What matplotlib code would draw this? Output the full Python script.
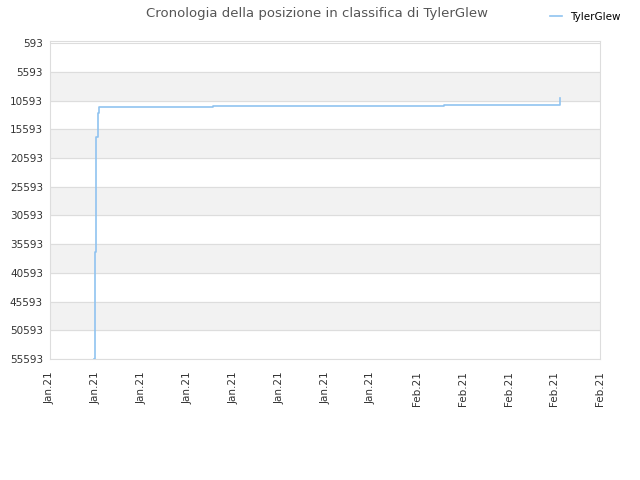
import numpy as np
import matplotlib
matplotlib.use('Agg')
import matplotlib.pyplot as plt
from datetime import datetime

# dati della classifica
dates = ['2021-01-04 20:00', '2021-01-04 22:00', '2021-01-05 01:00', '2021-01-05 04:00',
         '2021-01-05 07:00', '2021-01-15 06:00', '2021-02-04 09:00', '2021-02-14 08:00',
         '2021-02-14 12:00']
ranks = [55593, 36970, 16934, 12753, 11698, 11520, 11350, 11350, 10120]
player = 'TylerGlew'

yticks = [593, 5593, 10593, 15593, 20593, 25593, 30593, 35593, 40593, 45593, 50593, 55593]
xticks = ['2021-01-01', '2021-01-05', '2021-01-09', '2021-01-13', '2021-01-17', '2021-01-21',
          '2021-01-25', '2021-01-29', '2021-02-02', '2021-02-06', '2021-02-10', '2021-02-14',
          '2021-02-18']

x = [datetime.strptime(d, '%Y-%m-%d %H:%M') for d in dates]
xt = [datetime.strptime(d, '%Y-%m-%d') for d in xticks]

fig = plt.figure(figsize=(6.4, 4.8), dpi=100)
ax = fig.add_axes([0.078, 0.252, 0.86, 0.663])

# bande alternate
for i in range(len(yticks) - 1):
    if i % 2 == 1:
        ax.axhspan(yticks[i], yticks[i + 1], color='#f2f2f2', zorder=0)
for y in yticks:
    ax.axhline(y, color='#dddddd', lw=0.8, zorder=1)

ax.plot(x, ranks, drawstyle='steps-post', color='#90c3f0', lw=1.2, label=player, zorder=3)

ax.set_ylim(55593, 200)
ax.set_xlim(xt[0], xt[-1])
ax.set_yticks(yticks)
ax.set_yticklabels([str(v) for v in yticks])
ax.set_xticks(xt)
ax.set_xticklabels([d.strftime('%b.%y') for d in xt], rotation=90)
ax.tick_params(axis='y', labelsize=7.5, colors='#333333', length=0, pad=5)
ax.tick_params(axis='x', labelsize=7.5, colors='#333333', length=0, pad=9)
for s in ax.spines.values():
    s.set_color('#dddddd')

fig.suptitle('Cronologia della posizione in classifica di TylerGlew', x=0.495, y=0.985,
             fontsize=9.5, color='#555555')
leg = fig.legend(loc='upper right', bbox_to_anchor=(0.985, 0.995), frameon=False, fontsize=7.5,
                 handlelength=1.2)

plt.savefig('out.png', dpi=100)
